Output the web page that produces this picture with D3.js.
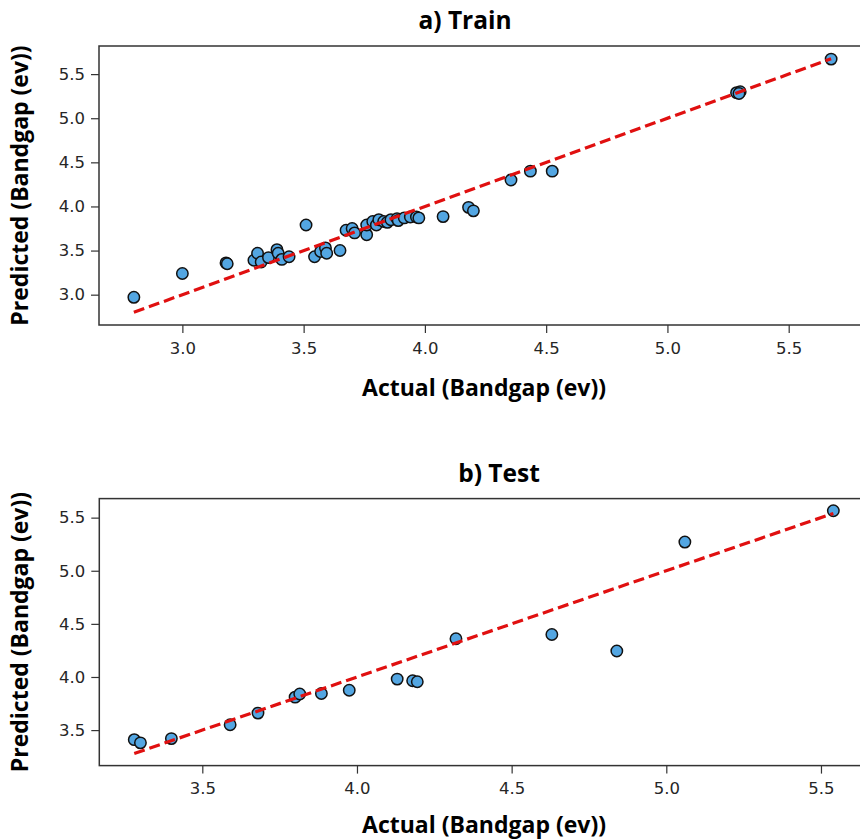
<!DOCTYPE html>
<html>
<head>
<meta charset="utf-8">
<script src="https://cdn.jsdelivr.net/npm/d3@7"></script>
<style>
  body { margin: 0; background: #fff; }
  svg { display: block; }
</style>
</head>
<body>
<div id="chart"></div>
<script>

// train set: actual vs predicted bandgap (ev)
var trainActual = [2.80, 3.00, 3.18, 3.185, 3.295, 3.31, 3.325, 3.355, 3.39, 3.395, 3.41, 3.44,
  3.51, 3.545, 3.57, 3.59, 3.595, 3.65, 3.675, 3.70, 3.71, 3.76, 3.76, 3.785, 3.80, 3.81,
  3.83, 3.845, 3.86, 3.885, 3.89, 3.915, 3.94, 3.965, 3.975, 4.075, 4.18, 4.20, 4.355,
  4.435, 4.525, 5.285, 5.30, 5.295, 5.675];
var trainPredicted = [2.97, 3.24, 3.36, 3.35, 3.39, 3.47, 3.37, 3.42, 3.51, 3.47, 3.40, 3.43,
  3.79, 3.43, 3.49, 3.53, 3.47, 3.50, 3.73, 3.75, 3.70, 3.68, 3.79, 3.83, 3.79, 3.85,
  3.83, 3.82, 3.85, 3.86, 3.84, 3.87, 3.88, 3.88, 3.87, 3.885, 3.99, 3.95, 4.30,
  4.40, 4.40, 5.29, 5.30, 5.28, 5.67];

// test set
var testActual = [3.28, 3.30, 3.40, 3.59, 3.68, 3.80, 3.815, 3.885, 3.975, 4.13, 4.18, 4.195,
  4.32, 4.63, 4.84, 5.06, 5.54];
var testPredicted = [3.41, 3.38, 3.42, 3.55, 3.66, 3.81, 3.84, 3.845, 3.875, 3.98, 3.965, 3.955,
  4.36, 4.40, 4.245, 5.27, 5.565];

// tick labels
var trainTicks = [3.0, 3.5, 4.0, 4.5, 5.0, 5.5];
var testTicks = [3.5, 4.0, 4.5, 5.0, 5.5];

var titles = ["a) Train", "b) Test"];
var xLabel = "Actual (Bandgap (ev))";
var yLabel = "Predicted (Bandgap (ev))";

var svg = d3.select("#chart")
  .append("svg")
  .attr("width", 860)
  .attr("height", 839);

// matplotlib-like 5% padding on the data extent
function padded(values) {
  var lo = d3.min(values), hi = d3.max(values), p = (hi - lo) * 0.05;
  return [lo - p, hi + p];
}

function drawPanel(actual, predicted, xTicks, yTicks, title, box, titleX, xLabelGap) {
  var lineEnds = d3.extent(actual);

  var x = d3.scaleLinear()
    .domain(padded(actual.concat(lineEnds)))
    .range([0, box.width]);
  var y = d3.scaleLinear()
    .domain(padded(predicted.concat(lineEnds)))
    .range([box.height, 0]);

  var g = svg.append("g")
    .attr("transform", "translate(" + box.left + "," + box.top + ")");

  // x axis
  var xa = g.append("g")
    .attr("transform", "translate(0," + box.height + ")")
    .call(d3.axisBottom(x).tickValues(xTicks).tickFormat(d3.format(".1f")).tickSize(8).tickPadding(9));
  // y axis
  var ya = g.append("g")
    .call(d3.axisLeft(y).tickValues(yTicks).tickFormat(d3.format(".1f")).tickSize(8).tickPadding(6));

  [xa, ya].forEach(function(a) {
    a.select(".domain").remove();
    a.selectAll("line").attr("stroke", "#333").attr("stroke-width", 1.2);
    a.selectAll("text")
      .attr("fill", "#262626")
      .style("font-family", "DejaVu Sans")
      .style("font-size", "16.5px");
  });

  // frame
  g.append("rect")
    .attr("width", box.width)
    .attr("height", box.height)
    .attr("fill", "none")
    .attr("stroke", "#333")
    .attr("stroke-width", 1.5);

  // points
  g.selectAll("circle")
    .data(actual)
    .enter()
    .append("circle")
      .attr("cx", function(d) { return x(d); })
      .attr("cy", function(d, i) { return y(predicted[i]); })
      .attr("r", 5.7)
      .attr("fill", "#53a6e2")
      .attr("stroke", "#111")
      .attr("stroke-width", 1.5);

  // ideal y = x line
  g.append("line")
    .attr("x1", x(lineEnds[0]))
    .attr("y1", y(lineEnds[0]))
    .attr("x2", x(lineEnds[1]))
    .attr("y2", y(lineEnds[1]))
    .attr("stroke", "#e01010")
    .attr("stroke-width", 3.2)
    .attr("stroke-dasharray", "11,5");

  // title
  svg.append("text")
    .attr("x", titleX)
    .attr("y", box.top - 17)
    .attr("text-anchor", "middle")
    .style("font-family", "Open Sans")
    .style("font-weight", "bold")
    .style("font-size", "24.5px")
    .text(title);

  // axis labels
  svg.append("text")
    .attr("x", 484)
    .attr("y", box.top + box.height + xLabelGap)
    .attr("text-anchor", "middle")
    .style("font-family", "Open Sans")
    .style("font-weight", "bold")
    .style("font-size", "23px")
    .text(xLabel);

  svg.append("text")
    .attr("transform", "translate(28," + (box.top + box.height / 2) + ")rotate(-90)")
    .attr("text-anchor", "middle")
    .style("font-family", "Open Sans")
    .style("font-weight", "bold")
    .style("font-size", "23px")
    .text(yLabel);
}

drawPanel(trainActual, trainPredicted, trainTicks, trainTicks, titles[0],
  {left: 99, top: 46, width: 767, height: 279}, 465, 71);
drawPanel(testActual, testPredicted, testTicks, testTicks, titles[1],
  {left: 99.3, top: 498.6, width: 769, height: 267}, 499, 67);

</script>
</body>
</html>
